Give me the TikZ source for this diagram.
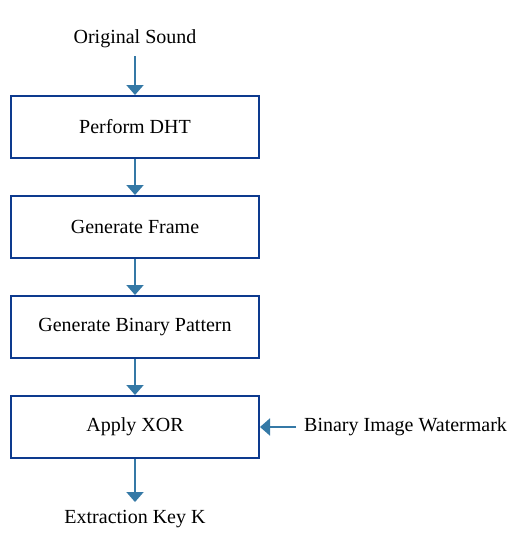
\documentclass[tikz,border=0pt]{standalone}
\usepackage{fontspec}
\setmainfont{Liberation Serif}
\usetikzlibrary{positioning, arrows.meta}
\definecolor{cBox}{HTML}{0D3A8E}
\definecolor{cArrow}{HTML}{3579A6}

\begin{document}
\begin{tikzpicture}[
  x=1pt, y=-1pt,
  node distance=36pt,
  stepbox/.style={
    draw=cBox, line width=2pt, fill=white,
    minimum width=248pt, minimum height=62pt,
    font=\fontsize{20}{24}\selectfont
  },
  label/.style={
    inner sep=8pt, font=\fontsize{20}{24}\selectfont
  },
  flow/.style={
    -{Triangle[length=10pt, width=17pt]}, line width=2pt, color=cArrow
  },
]
\useasboundingbox (0,0) rectangle (530,554);

% process steps
\node[stepbox] (dht) at (135,127) {Perform DHT};
\node[stepbox, below=of dht] (frame) {Generate Frame};
\node[stepbox, below=of frame] (pattern) {Generate Binary Pattern};
\node[stepbox, below=of pattern] (xor) {Apply XOR};

% input and output
\node[label] (sound) at (135,39) {Original Sound};
\node[label] (key) at (135,519) {Extraction Key K};
\node[label, anchor=west] (mark) at (296,427) {Binary Image Watermark};

% arrows
\foreach \a/\b in {sound/dht, dht/frame, frame/pattern, pattern/xor, xor/key} {
  \draw[flow] (\a) -- (\b);
}
\draw[flow] (mark.west) -- (mark.west -| xor.east);

\end{tikzpicture}
\end{document}
